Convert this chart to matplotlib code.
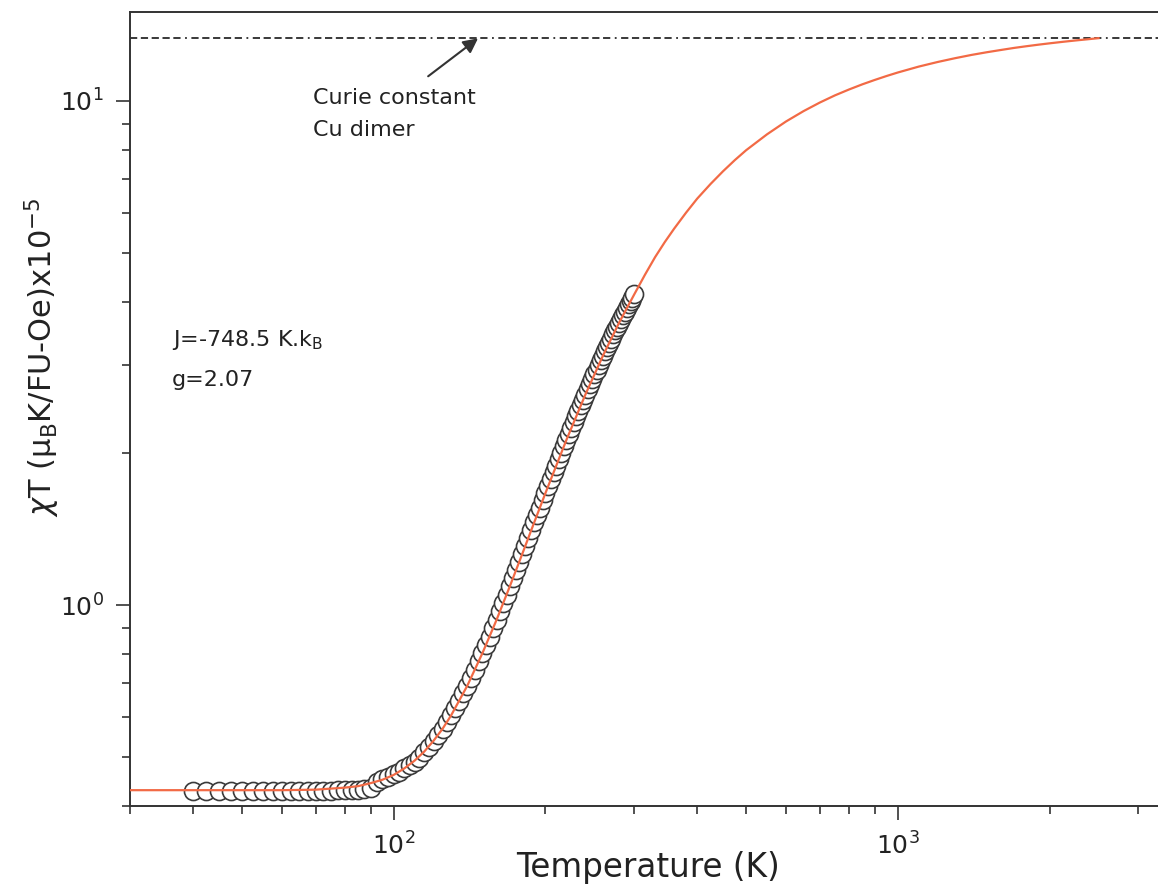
import matplotlib
matplotlib.use("Agg")
import matplotlib.pyplot as plt
from matplotlib.ticker import LogLocator, NullFormatter, LogFormatterMathtext

# measured chi*T (x1e-5 muB K / FU-Oe) vs temperature
temp_data = [40, 42.5, 45, 47.5, 50, 52.5, 55, 57.5, 60, 62.5, 65, 67.5, 70, 72.5,
             75, 77.5, 80, 82.5, 85, 87.5, 90, 92.5, 95, 97.5, 100, 102.5, 105,
             107.5, 110, 112.5, 115, 117.5, 120, 122.5, 125, 127.5, 130, 132.5,
             135, 137.5, 140, 142.5, 145, 147.5, 150, 152.5, 155, 157.5, 160,
             162.5, 165, 167.5, 170, 172.5, 175, 177.5, 180, 182.5, 185, 187.5,
             190, 192.5, 195, 197.5, 200, 202.5, 205, 207.5, 210, 212.5, 215,
             217.5, 220, 222.5, 225, 227.5, 230, 232.5, 235, 237.5, 240, 242.5,
             245, 247.5, 250, 252.5, 255, 257.5, 260, 262.5, 265, 267.5, 270,
             272.5, 275, 277.5, 280, 282.5, 285, 287.5, 290, 292.5, 295, 297.5, 300]
chit_data = [0.429, 0.428, 0.428, 0.428, 0.428, 0.428, 0.428, 0.428, 0.428, 0.429,
             0.429, 0.429, 0.429, 0.429, 0.429, 0.430, 0.430, 0.430, 0.431, 0.432,
             0.434, 0.447, 0.452, 0.457, 0.462, 0.468, 0.475, 0.482, 0.490, 0.499,
             0.511, 0.524, 0.538, 0.553, 0.569, 0.587, 0.605, 0.625, 0.646, 0.669,
             0.693, 0.719, 0.745, 0.774, 0.804, 0.835, 0.867, 0.901, 0.936, 0.973,
             1.011, 1.050, 1.091, 1.133, 1.176, 1.221, 1.266, 1.313, 1.361, 1.410,
             1.460, 1.510, 1.562, 1.615, 1.669, 1.724, 1.779, 1.835, 1.892, 1.948,
             2.007, 2.066, 2.125, 2.186, 2.245, 2.306, 2.368, 2.429, 2.491, 2.554,
             2.616, 2.679, 2.742, 2.805, 2.869, 2.932, 2.995, 3.059, 3.123, 3.187,
             3.251, 3.315, 3.378, 3.442, 3.505, 3.569, 3.633, 3.696, 3.759, 3.822,
             3.885, 3.947, 4.009, 4.071, 4.133]

# fitted dimer curve
temp_fit = [30, 40, 50, 60, 70, 80, 85, 90, 95, 100, 105, 110, 115, 120, 125, 130,
            140, 150, 160, 170, 180, 190, 200, 220, 240, 260, 280, 300, 315, 330,
            345, 360, 380, 400, 425, 450, 475, 500, 550, 600, 650, 700, 750, 800,
            850, 900, 950, 1000, 1100, 1200, 1300, 1400, 1500, 1600, 1700, 1800,
            1900, 2000, 2125, 2250, 2375, 2500]
chit_fit = [0.430, 0.430, 0.430, 0.430, 0.431, 0.435, 0.438, 0.444, 0.451, 0.461,
            0.475, 0.492, 0.513, 0.539, 0.569, 0.605, 0.693, 0.804, 0.936, 1.091,
            1.266, 1.460, 1.669, 2.125, 2.616, 3.123, 3.633, 4.133, 4.52, 4.90,
            5.25, 5.58, 6.00, 6.40, 6.84, 7.25, 7.63, 7.98, 8.58, 9.10, 9.54,
            9.92, 10.25, 10.53, 10.78, 11.00, 11.20, 11.38, 11.69, 11.94, 12.15,
            12.33, 12.48, 12.61, 12.73, 12.83, 12.92, 13.00, 13.09, 13.17, 13.24,
            13.31]

curie_const = 13.3

fig = plt.figure(figsize=(11.58, 8.93), dpi=100)
ax = fig.add_axes([0.1123, 0.0974, 0.8877, 0.8892])

ax.plot(temp_data, chit_data, "o", ms=13, mfc="white", mec="#3a3a3a", mew=1.2,
        zorder=3)
ax.plot(temp_fit, chit_fit, "-", color="#f26a45", lw=1.6, zorder=4)
ax.axhline(curie_const, color="#2a2a2a", lw=1.3,
           ls=(0, (4, 2, 4, 2, 4, 2, 4, 2, 4, 2.5, 1, 2.5)), zorder=2)

ax.set_xscale("log")
ax.set_yscale("log")
ax.set_xlim(30, 3280)
ax.set_ylim(0.4, 15)

for a in (ax.xaxis, ax.yaxis):
    a.set_major_locator(LogLocator(base=10))
    a.set_minor_locator(LogLocator(base=10, subs=range(2, 10)))
    a.set_minor_formatter(NullFormatter())
    a.set_major_formatter(LogFormatterMathtext())

ax.tick_params(which="major", direction="out", length=10, width=1.2,
               labelsize=18, pad=9, colors="#333333", labelcolor="#222222")
ax.tick_params(which="minor", direction="out", length=5.5, width=1.2,
               colors="#333333")
ax.tick_params(top=False, right=False)

ax.spines["right"].set_visible(False)
for s in ("left", "bottom", "top"):
    ax.spines[s].set_linewidth(1.4)
    ax.spines[s].set_color("#333333")

ax.set_xlabel("Temperature (K)", fontsize=23.5, color="#222222")
ax.xaxis.set_label_coords(0.504, -0.057)
ax.set_ylabel("$\\chi$T (\u03bc$_\\mathrm{B}$K/FU-Oe)x10$^{-5}$", fontsize=22,
              color="#222222")
ax.yaxis.set_label_coords(-0.066, 0.565)

txt = dict(fontsize=16, color="#222222", transform=ax.transAxes, va="center")
ax.text(0.178, 0.892, "Curie constant", **txt)
ax.text(0.178, 0.851, "Cu dimer", **txt)
ax.text(0.041, 0.587, "J=-748.5 K.k$_\\mathrm{B}$", **txt)
ax.text(0.041, 0.537, "g=2.07", **txt)

ax.annotate("", xy=(147, curie_const), xycoords="data",
            xytext=(0.290, 0.919), textcoords="axes fraction",
            arrowprops=dict(arrowstyle="-|>", color="#333333", lw=1.5,
                            mutation_scale=22, shrinkA=0, shrinkB=0))

fig.savefig("out.png", dpi=100)
plt.close(fig)
